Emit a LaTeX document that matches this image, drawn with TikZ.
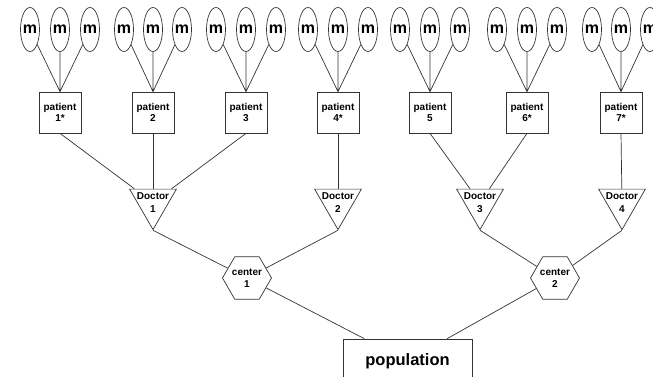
\documentclass[tikz,border=0pt]{standalone}
\usepackage{fontspec}
\setmainfont{Liberation Sans}
\usetikzlibrary{shapes.geometric}

\begin{document}
\begin{tikzpicture}[
  x=1pt, y=-1pt,
  line width=0.7pt, draw=black!80,
  txt/.style={font=\fontsize{10}{11.5}\selectfont\bfseries, align=center, inner sep=0pt},
  mnode/.style={ellipse, draw=black!80, minimum width=19pt, minimum height=44pt, inner sep=0pt,
    label={[font=\fontsize{16}{18}\selectfont\bfseries, inner sep=0pt]center:m}},
  patient/.style={rectangle, draw=black!80, minimum width=42pt, minimum height=41pt, txt},
  doctor/.style={regular polygon, regular polygon sides=3, shape border rotate=180,
    draw=black!80, minimum size=54pt, inner sep=0pt},
  centre/.style={regular polygon, regular polygon sides=6,
    draw=black!80, minimum size=49pt, inner sep=0pt},
  every edge/.style={draw=black!80}
]
\useasboundingbox (0,0) rectangle (653,377);
\clip (0,0) rectangle (653,377);

% patients
\node[patient] (patient1) at (60,112.5) {patient\\1*};
\node[patient] (patient2) at (153,112.5) {patient\\2};
\node[patient] (patient3) at (246,112.5) {patient\\3};
\node[patient] (patient4) at (338,112.5) {patient\\4*};
\node[patient] (patient5) at (430,112.5) {patient\\5};
\node[patient] (patient6) at (527,112.5) {patient\\6*};
\node[patient] (patient7) at (621,112.5) {patient\\7*};

% measurements
\node[mnode] (m1a) at (30,29.5) {};
\node[mnode] (m1b) at (60,29.5) {};
\node[mnode] (m1c) at (90,29.5) {};
\node[mnode] (m2a) at (124,29.5) {};
\node[mnode] (m2b) at (153,29.5) {};
\node[mnode] (m2c) at (182,29.5) {};
\node[mnode] (m3a) at (216,29.5) {};
\node[mnode] (m3b) at (246,29.5) {};
\node[mnode] (m3c) at (276,29.5) {};
\node[mnode] (m4a) at (308,29.5) {};
\node[mnode] (m4b) at (338,29.5) {};
\node[mnode] (m4c) at (368,29.5) {};
\node[mnode] (m5a) at (400,29.5) {};
\node[mnode] (m5b) at (430,29.5) {};
\node[mnode] (m5c) at (460,29.5) {};
\node[mnode] (m6a) at (497,29.5) {};
\node[mnode] (m6b) at (527,29.5) {};
\node[mnode] (m6c) at (557,29.5) {};
\node[mnode] (m7a) at (592,29.5) {};
\node[mnode] (m7b) at (621,29.5) {};
\node[mnode] (m7c) at (650,29.5) {};

% doctors
\node[doctor, label={[txt, font=\fontsize{10}{12.5}\selectfont\bfseries]center:Doctor\\1}] (doctor1) at (153,202.6) {};
\node[doctor, label={[txt, font=\fontsize{10}{12.5}\selectfont\bfseries]center:Doctor\\2}] (doctor2) at (338,202.6) {};
\node[doctor, label={[txt, font=\fontsize{10}{12.5}\selectfont\bfseries]center:Doctor\\3}] (doctor3) at (480,202.6) {};
\node[doctor, label={[txt, font=\fontsize{10}{12.5}\selectfont\bfseries]center:Doctor\\4}] (doctor4) at (622,202.6) {};

% centers
\node[centre, label={[txt, font=\fontsize{10}{12}\selectfont\bfseries]center:center\\1}] (center1) at (247,278) {};
\node[centre, label={[txt, font=\fontsize{10}{12}\selectfont\bfseries]center:center\\2}] (center2) at (555,278) {};

\node[rectangle, draw=black!80, minimum width=129pt, minimum height=44pt,
  font=\fontsize{16.5}{18}\selectfont\bfseries] (population) at (407.5,361) {population};

% m -> patient
\draw (m1a) -- (patient1.north) (m1b) -- (patient1.north) (m1c) -- (patient1.north);
\draw (m2a) -- (patient2.north) (m2b) -- (patient2.north) (m2c) -- (patient2.north);
\draw (m3a) -- (patient3.north) (m3b) -- (patient3.north) (m3c) -- (patient3.north);
\draw (m4a) -- (patient4.north) (m4b) -- (patient4.north) (m4c) -- (patient4.north);
\draw (m5a) -- (patient5.north) (m5b) -- (patient5.north) (m5c) -- (patient5.north);
\draw (m6a) -- (patient6.north) (m6b) -- (patient6.north) (m6c) -- (patient6.north);
\draw (m7a) -- (patient7.north) (m7b) -- (patient7.north) (m7c) -- (patient7.north);

% patient -> doctor
\draw (patient1.south) -- (doctor1);
\draw (patient2.south) -- (doctor1);
\draw (patient3.south) -- (doctor1);
\draw (patient4.south) -- (doctor2);
\draw (patient5.south) -- (doctor3);
\draw (patient6.south) -- (doctor3);
\draw (patient7.south) -- (doctor4);

% doctor -> center -> population
\draw (doctor1.south) -- (center1);
\draw (doctor2.south) -- (center1);
\draw (doctor3.south) -- (center2);
\draw (doctor4.south) -- (center2);
\draw (center1) -- (population);
\draw (center2) -- (population);

\end{tikzpicture}
\end{document}
